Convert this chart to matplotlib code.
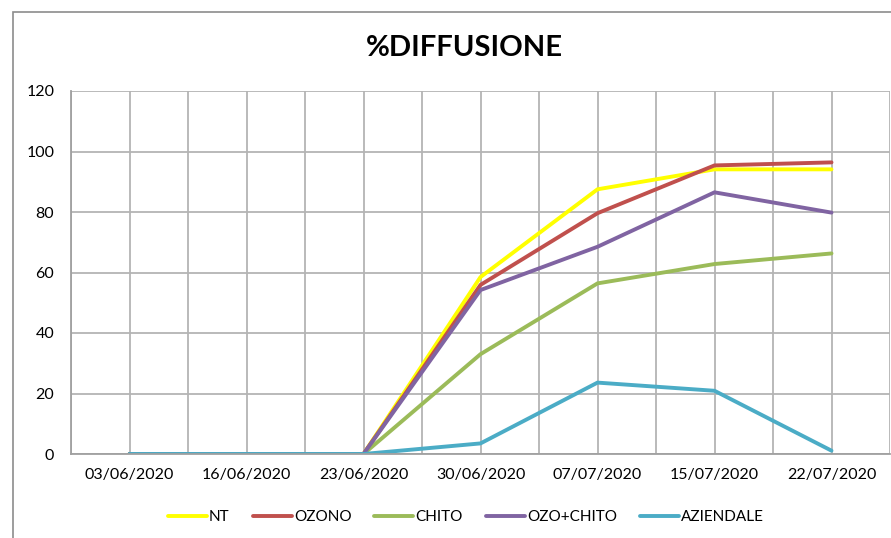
import matplotlib
matplotlib.use("Agg")
import matplotlib.pyplot as plt
from matplotlib.patches import Rectangle

dates = ["03/06/2020", "16/06/2020", "23/06/2020", "30/06/2020", "07/07/2020", "15/07/2020", "22/07/2020"]
nt = [0, 0, 0, 58.5, 87.5, 94.1, 94.1]
ozono = [0, 0, 0, 55.9, 79.6, 95.4, 96.4]
chito = [0, 0, 0, 33.0, 56.4, 62.8, 66.3]
ozo_chito = [0, 0, 0, 54.2, 68.5, 86.5, 79.8]
aziendale = [0, 0, 0, 3.5, 23.6, 20.9, 1.1]
series_names = ["NT", "OZONO", "CHITO", "OZO+CHITO", "AZIENDALE"]
colors = ["#FFFF00", "#C0504D", "#9BBB59", "#8064A2", "#4BACC6"]
yticks = [0, 20, 40, 60, 80, 100, 120]

plt.rcParams['font.family'] = ['Lato', 'DejaVu Sans']

fig = plt.figure(figsize=(8.91, 5.38), dpi=100)
fig.patches.append(Rectangle((13/891, -0.05), 1.1, 1.05 - 12/538, transform=fig.transFigure,
                             fill=False, edgecolor="#8C8C8C", linewidth=1.2))
ax = fig.add_axes([71/891, 1-454/538, 819/891, 363/538])

x = list(range(len(dates)))
data = [nt, ozono, chito, ozo_chito, aziendale]
for name, vals, c in zip(series_names, data, colors):
    ax.plot(x, vals, color=c, linewidth=2.8, label=name, solid_capstyle="round", solid_joinstyle="miter")

ax.set_xlim(-0.5, len(dates) - 0.5)
ax.set_ylim(0, 120)
ax.set_yticks(yticks)
ax.set_xticks(x)
ax.set_xticklabels(dates)
ax.set_xticks([i - 0.5 for i in range(len(dates) + 1)], minor=True)
ax.grid(True, which="both", axis="x", color="#B4B4B4", linewidth=1.3)
ax.grid(True, which="major", axis="y", color="#B4B4B4", linewidth=1.3)
ax.set_axisbelow(True)
ax.tick_params(axis="x", which="both", length=0, labelsize=11.5, pad=10)
ax.tick_params(axis="y", length=0, labelsize=11.5, pad=12)
for s in ["top", "right"]:
    ax.spines[s].set_visible(False)
ax.spines["left"].set_color("#A0A0A0")
ax.spines["bottom"].set_color("#A0A0A0")
ax.spines["left"].set_linewidth(1.3)
ax.spines["bottom"].set_linewidth(1.3)

fig.text(464/891, 1-48/538, "%DIFFUSIONE", ha="center", va="center", fontsize=21, fontweight="bold")

leg = fig.legend(loc="center", bbox_to_anchor=(466/891, 1-517/538), ncol=5, frameon=False,
                 fontsize=11, handlelength=2.55, handletextpad=0.15, columnspacing=1.5)

fig.savefig("out.png", dpi=100)
